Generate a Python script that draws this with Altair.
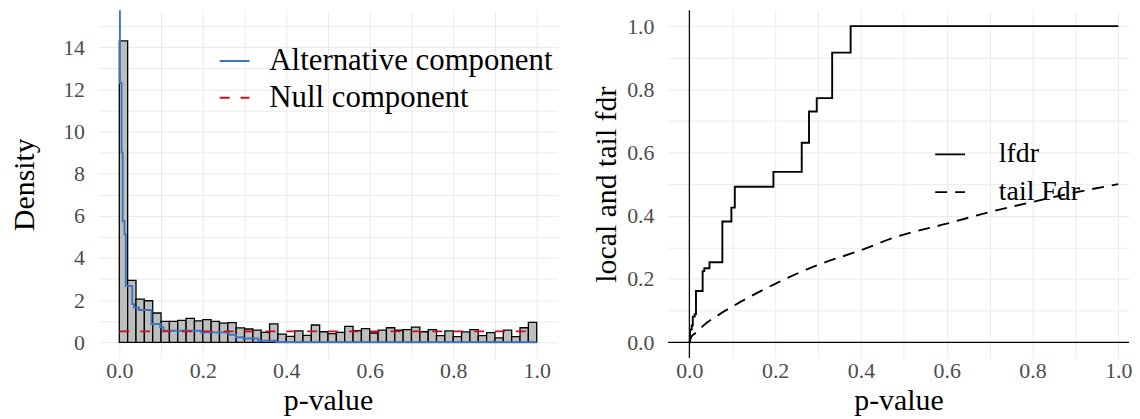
import altair as alt
import pandas as pd

# ---------------- data ----------------
# histogram of p-values (bin edges and densities)
bin_left = [0.00, 0.02, 0.04, 0.06, 0.08, 0.10, 0.12, 0.14, 0.16, 0.18,
            0.20, 0.22, 0.24, 0.26, 0.28, 0.30, 0.32, 0.34, 0.36, 0.38,
            0.40, 0.42, 0.44, 0.46, 0.48, 0.50, 0.52, 0.54, 0.56, 0.58,
            0.60, 0.62, 0.64, 0.66, 0.68, 0.70, 0.72, 0.74, 0.76, 0.78,
            0.80, 0.82, 0.84, 0.86, 0.88, 0.90, 0.92, 0.94, 0.96, 0.98]
bin_right = [0.02, 0.04, 0.06, 0.08, 0.10, 0.12, 0.14, 0.16, 0.18, 0.20,
             0.22, 0.24, 0.26, 0.28, 0.30, 0.32, 0.34, 0.36, 0.38, 0.40,
             0.42, 0.44, 0.46, 0.48, 0.50, 0.52, 0.54, 0.56, 0.58, 0.60,
             0.62, 0.64, 0.66, 0.68, 0.70, 0.72, 0.74, 0.76, 0.78, 0.80,
             0.82, 0.84, 0.86, 0.88, 0.90, 0.92, 0.94, 0.96, 0.98, 1.00]
density = [14.3, 2.94, 2.05, 1.97, 1.39, 0.99, 0.99, 1.04, 1.13, 1.02,
           1.07, 0.99, 0.91, 0.93, 0.68, 0.63, 0.58, 0.47, 0.87, 0.39,
           0.28, 0.54, 0.33, 0.82, 0.50, 0.41, 0.47, 0.75, 0.55, 0.65,
           0.44, 0.58, 0.69, 0.57, 0.60, 0.72, 0.50, 0.60, 0.32, 0.54,
           0.27, 0.49, 0.60, 0.32, 0.46, 0.21, 0.58, 0.27, 0.69, 0.94]

# alternative component (step function) and null component
alt_p = [0, 0.0015, 0.0055, 0.008, 0.0125, 0.0155, 0.031, 0.035, 0.047, 0.077,
         0.098, 0.106, 0.196, 0.262, 0.279, 0.297, 0.333, 0.376, 1.0]
alt_val = [40, 12.3, 9.0, 5.74, 5.11, 2.67, 1.81, 1.65, 1.53, 0.87,
           0.71, 0.55, 0.47, 0.36, 0.24, 0.18, 0.07, 0.0, 0.0]
null_p = [0.0, 1.0]
null_val = [0.52, 0.52]

# local fdr (step function) and tail Fdr
lfdr_p = [0, 0.0015, 0.0055, 0.008, 0.0125, 0.0155, 0.031, 0.035, 0.047, 0.077,
          0.098, 0.106, 0.196, 0.262, 0.279, 0.297, 0.333, 0.376, 1.0]
lfdr_val = [0.0, 0.040, 0.053, 0.081, 0.089, 0.162, 0.225, 0.234, 0.253, 0.382,
            0.426, 0.492, 0.539, 0.631, 0.730, 0.772, 0.916, 1.0, 1.0]
fdr_p = [0, 0.005, 0.013, 0.02, 0.032, 0.071, 0.117, 0.2, 0.293, 0.397,
         0.486, 0.6, 0.7, 0.8, 0.9, 1.0]
fdr_val = [0, 0.018, 0.028, 0.036, 0.052, 0.089, 0.126, 0.185, 0.241, 0.29,
           0.335, 0.375, 0.412, 0.444, 0.474, 0.5]

left_labels = ["Alternative component", "Null component"]
right_labels = ["lfdr", "tail Fdr"]
x_ticks = [0.0, 0.1, 0.2, 0.3, 0.4, 0.5, 0.6, 0.7, 0.8, 0.9, 1.0]
dens_ticks = [0, 1, 2, 3, 4, 5, 6, 7, 8, 9, 10, 11, 12, 13, 14, 15]
fdr_ticks = [0.0, 0.1, 0.2, 0.3, 0.4, 0.5, 0.6, 0.7, 0.8, 0.9, 1.0]
zero_line = [0]

# ---------------- tables ----------------
hist_df = pd.DataFrame({"left": bin_left, "right": bin_right,
                        "density": density, "base": [0] * len(density)})
comp_df = pd.concat([
    pd.DataFrame({"component": left_labels[0], "p": alt_p, "value": alt_val}),
    pd.DataFrame({"component": left_labels[1], "p": null_p, "value": null_val}),
])
lfdr_df = pd.DataFrame({"series": right_labels[0], "p": lfdr_p, "value": lfdr_val})
fdr_df = pd.DataFrame({"series": right_labels[1], "p": fdr_p, "value": fdr_val})
zero_df = pd.DataFrame({"v": zero_line})

FONT = "Liberation Serif"
even_x = "round(datum.value*10) % 2 == 0 ? format(datum.value, '.1f') : ''"

# ---------------- left panel ----------------
xs_left = alt.Scale(domain=[-0.05, 1.05], nice=False, zero=False)
ys_left = alt.Scale(domain=[-0.75, 15.75], nice=False, zero=False)
x_axis = alt.Axis(values=x_ticks, labelExpr=even_x, title="p-value")
y_axis_left = alt.Axis(values=dens_ticks,
                       labelExpr="datum.value % 2 == 0 ? datum.label : ''",
                       title="Density", titlePadding=23)

bars = alt.Chart(hist_df).mark_rect(
    fill="#BEBEBE", stroke="black", strokeWidth=1.3
).encode(
    x=alt.X("left:Q", scale=xs_left, axis=x_axis),
    x2="right:Q",
    y=alt.Y("density:Q", scale=ys_left, axis=y_axis_left),
    y2="base:Q",
)

leg_left = alt.Legend(
    orient="none", legendX=121, legendY=35, title=None,
    symbolType="stroke", symbolSize=900, symbolStrokeWidth=1.9,
    labelFont=FONT, labelFontSize=31, labelColor="black",
    rowPadding=6, labelOffset=19, padding=0, labelLimit=400,
)
lines = alt.Chart(comp_df).mark_line(
    interpolate="step-after", clip=True, strokeWidth=1.9
).encode(
    x=alt.X("p:Q", scale=xs_left, axis=x_axis),
    y=alt.Y("value:Q", scale=ys_left, axis=y_axis_left),
    color=alt.Color("component:N",
                    scale=alt.Scale(domain=left_labels, range=["#3A76C4", "#C8101E"]),
                    legend=leg_left),
    strokeDash=alt.StrokeDash("component:N",
                              scale=alt.Scale(domain=left_labels, range=[[1, 0], [10, 11]]),
                              legend=leg_left),
)

left = alt.layer(bars, lines).properties(width=462, height=350)

# ---------------- right panel ----------------
xs_right = alt.Scale(domain=[-0.05, 1.025], nice=False, zero=False)
ys_right = alt.Scale(domain=[-0.05, 1.05], nice=False, zero=False)
y_axis_right = alt.Axis(values=fdr_ticks, labelExpr=even_x,
                        title="local and tail fdr", titlePadding=5)

leg_right = alt.Legend(
    orient="none", legendX=268, legendY=129, title=None,
    symbolType="stroke", symbolSize=900, symbolStrokeWidth=1.8,
    symbolStrokeColor="black",
    labelFont=FONT, labelFontSize=28, labelColor="black",
    rowPadding=8, labelOffset=33, padding=0, labelLimit=400,
)
dash_scale = alt.Scale(domain=right_labels, range=[[1, 0], [12, 8]])

hline = alt.Chart(zero_df).mark_rule(color="black", strokeWidth=1.2).encode(
    y=alt.Y("v:Q", scale=ys_right, axis=y_axis_right))
vline = alt.Chart(zero_df).mark_rule(color="black", strokeWidth=1.2).encode(
    x=alt.X("v:Q", scale=xs_right, axis=x_axis))

lfdr_line = alt.Chart(lfdr_df).mark_line(
    interpolate="step-after", color="black", strokeWidth=1.9
).encode(
    x=alt.X("p:Q", scale=xs_right, axis=x_axis),
    y=alt.Y("value:Q", scale=ys_right, axis=y_axis_right),
    strokeDash=alt.StrokeDash("series:N", scale=dash_scale, legend=leg_right),
)
fdr_line = alt.Chart(fdr_df).mark_line(
    interpolate="monotone", color="black", strokeWidth=1.9
).encode(
    x=alt.X("p:Q", scale=xs_right, axis=x_axis),
    y=alt.Y("value:Q", scale=ys_right, axis=y_axis_right),
    strokeDash=alt.StrokeDash("series:N", scale=dash_scale, legend=leg_right),
)

right = alt.layer(hline, vline, lfdr_line, fdr_line).properties(width=464, height=350)

chart = alt.hconcat(left, right, spacing=34).resolve_scale(
    color="independent", strokeDash="independent"
).properties(
    padding={"left": 2, "top": 0, "right": 0, "bottom": 0}
).configure_view(stroke=None).configure_axis(
    labelFont=FONT, labelFontSize=22, labelColor="#4D4D4D",
    titleFont=FONT, titleFontSize=30, titleFontWeight="normal", titleColor="black",
    domain=False, ticks=False, gridColor="#EBEBEB", gridWidth=1, labelPadding=14,
).configure_axisX(labelPadding=3, titlePadding=4)

chart.save("out.html", embed_options={"renderer": "svg", "actions": False})
